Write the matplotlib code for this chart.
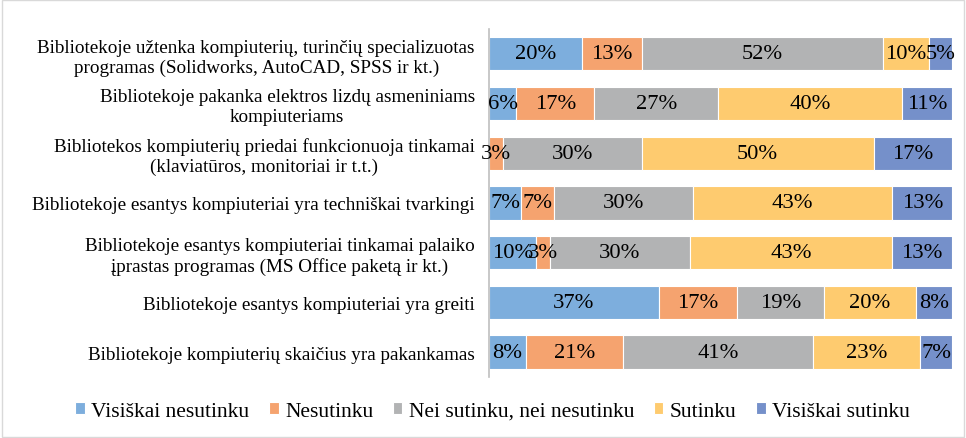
import matplotlib.pyplot as plt
import numpy as np
from matplotlib.patches import Rectangle

plt.rcParams['font.family'] = ['Liberation Serif', 'DejaVu Serif']

categories = [
    'Bibliotekoje užtenka kompiuterių, turinčių specializuotas\nprogramas (Solidworks, AutoCAD, SPSS ir kt.)',
    'Bibliotekoje pakanka elektros lizdų asmeniniams\nkompiuteriams',
    'Bibliotekos kompiuterių priedai funkcionuoja tinkamai\n(klaviatūros, monitoriai ir t.t.)',
    'Bibliotekoje esantys kompiuteriai yra techniškai tvarkingi',
    'Bibliotekoje esantys kompiuteriai tinkamai palaiko\nįprastas programas (MS Office paketą ir kt.)',
    'Bibliotekoje esantys kompiuteriai yra greiti',
    'Bibliotekoje kompiuterių skaičius yra pakankamas',
]

series_names = ['Visiškai nesutinku', 'Nesutinku', 'Nei sutinku, nei nesutinku',
                'Sutinku', 'Visiškai sutinku']
colors = ['#7DAEDD', '#F5A36F', '#B2B3B4', '#FECB6F', '#7590CA']

visiskai_nesutinku = [20, 6, 0, 7, 10, 37, 8]
nesutinku = [13, 17, 3, 7, 3, 17, 21]
nei_nei = [52, 27, 30, 30, 30, 19, 41]
sutinku = [10, 40, 50, 43, 43, 20, 23]
visiskai_sutinku = [5, 11, 17, 13, 13, 8, 7]

data = np.array([visiskai_nesutinku, nesutinku, nei_nei, sutinku, visiskai_sutinku], dtype=float)
share = data / data.sum(axis=0)  # 100% stacked

fig = plt.figure(figsize=(9.66, 4.39), dpi=100)
ax = fig.add_axes([0.506, 0.139, 0.48, 0.793])

y = np.arange(len(categories))
left = np.zeros(len(categories))
for i, name in enumerate(series_names):
    bars = ax.barh(y, share[i], left=left, height=0.67, color=colors[i],
                   edgecolor='white', linewidth=0.8, label=name)
    for j, b in enumerate(bars):
        if data[i, j] > 0:
            ax.text(left[j] + share[i, j] / 2, y[j], '%d%%' % data[i, j],
                    ha='center', va='center', fontsize=16.2, color='black')
    left += share[i]

ax.set_xlim(0, 1)
ax.set_ylim(len(categories) - 0.5, -0.5)
ax.set_yticks(y)
ax.set_yticklabels(categories, fontsize=13.8, color='black')
for lbl in ax.get_yticklabels():
    lbl.set_multialignment('center')
ax.tick_params(axis='y', length=0, pad=10)
ax.set_xticks([])
for s in ['top', 'right', 'bottom']:
    ax.spines[s].set_visible(False)
ax.spines['left'].set_color('#BFBFBF')
ax.spines['left'].set_linewidth(1.2)

fig.legend(loc='lower center', bbox_to_anchor=(0.51, -0.005), ncol=5, frameon=False,
           fontsize=15.5, handlelength=0.45, handleheight=0.45, handletextpad=0.3,
           columnspacing=0.9)

fig.patches.append(Rectangle((0.002, 0.002), 0.996, 0.996, transform=fig.transFigure,
                             fill=False, edgecolor='#D9D9D9', linewidth=1))

fig.savefig('out.png', dpi=100)
